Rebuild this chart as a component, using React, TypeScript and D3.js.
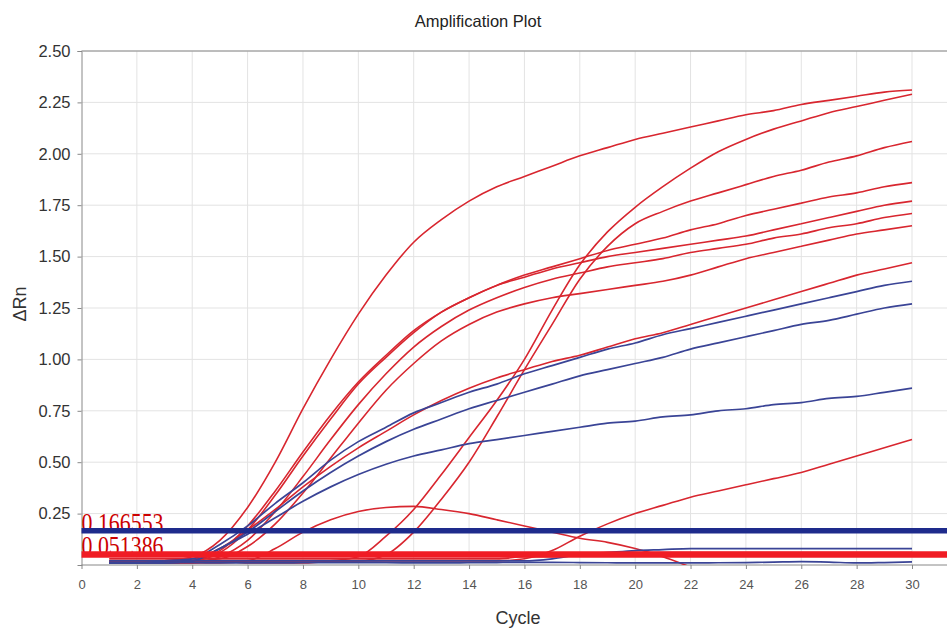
import React, { useRef, useEffect } from "react";
import * as d3 from "d3";

// cycle numbers and tick values
const cycles = d3.range(1, 31);
const xTicks = d3.range(0, 31, 2);
const yTicks = [0.25, 0.5, 0.75, 1.0, 1.25, 1.5, 1.75, 2.0, 2.25, 2.5];

// amplification curves (delta Rn per cycle, starting at cycle 1)
const redEarly = [0.01, 0.01, 0.02, 0.04, 0.12, 0.28, 0.5, 0.76, 1.0, 1.22, 1.41, 1.57, 1.68, 1.77, 1.84, 1.89, 1.94, 1.99, 2.03, 2.07, 2.1, 2.13, 2.16, 2.19, 2.21, 2.24, 2.26, 2.28, 2.3, 2.31];
const redLateA = [0.02, 0.02, 0.02, 0.02, 0.02, 0.01, 0.01, 0.01, 0.02, 0.04, 0.14, 0.27, 0.44, 0.62, 0.8, 1.0, 1.24, 1.46, 1.62, 1.74, 1.84, 1.93, 2.01, 2.07, 2.12, 2.16, 2.2, 2.23, 2.26, 2.29];
const redLateB = [0.02, 0.02, 0.02, 0.02, 0.02, 0.02, 0.02, 0.02, 0.02, 0.02, 0.05, 0.16, 0.32, 0.5, 0.72, 0.95, 1.17, 1.39, 1.55, 1.66, 1.72, 1.77, 1.81, 1.85, 1.89, 1.92, 1.96, 1.99, 2.03, 2.06];
const redMid1 = [0.01, 0.01, 0.01, 0.02, 0.07, 0.19, 0.36, 0.55, 0.73, 0.89, 1.02, 1.14, 1.23, 1.3, 1.36, 1.41, 1.45, 1.49, 1.53, 1.56, 1.59, 1.63, 1.66, 1.7, 1.73, 1.76, 1.79, 1.81, 1.84, 1.86];
const redMid2 = [0.02, 0.02, 0.02, 0.02, 0.06, 0.17, 0.34, 0.53, 0.71, 0.88, 1.01, 1.13, 1.23, 1.3, 1.36, 1.4, 1.44, 1.47, 1.5, 1.52, 1.54, 1.56, 1.58, 1.6, 1.63, 1.66, 1.69, 1.72, 1.75, 1.77];
const redMid3 = [0.01, 0.01, 0.01, 0.01, 0.04, 0.12, 0.26, 0.43, 0.61, 0.78, 0.93, 1.06, 1.16, 1.24, 1.3, 1.35, 1.39, 1.42, 1.45, 1.47, 1.49, 1.52, 1.54, 1.56, 1.59, 1.61, 1.64, 1.66, 1.69, 1.71];
const redMid4 = [0.02, 0.02, 0.02, 0.02, 0.03, 0.09, 0.2, 0.35, 0.52, 0.69, 0.85, 0.98, 1.09, 1.17, 1.23, 1.27, 1.3, 1.32, 1.34, 1.36, 1.38, 1.41, 1.45, 1.49, 1.52, 1.55, 1.58, 1.61, 1.63, 1.65];
const redLow = [0.01, 0.01, 0.02, 0.03, 0.08, 0.17, 0.27, 0.38, 0.48, 0.57, 0.65, 0.73, 0.8, 0.86, 0.91, 0.95, 0.99, 1.02, 1.06, 1.1, 1.13, 1.17, 1.21, 1.25, 1.29, 1.33, 1.37, 1.41, 1.44, 1.47];
const redLast = [0.02, 0.02, 0.02, 0.02, 0.02, 0.02, 0.02, 0.02, 0.02, 0.02, 0.02, 0.02, 0.02, 0.02, 0.02, 0.03, 0.07, 0.14, 0.2, 0.25, 0.29, 0.33, 0.36, 0.39, 0.42, 0.45, 0.49, 0.53, 0.57, 0.61];
const redHump = [0.01, 0.01, 0.01, 0.01, 0.01, 0.02, 0.08, 0.16, 0.22, 0.26, 0.28, 0.285, 0.27, 0.25, 0.22, 0.19, 0.16, 0.13, 0.11, 0.08, 0.04, -0.01];
const redFlat = [0.03, 0.03, 0.03, 0.03, 0.03, 0.03, 0.03, 0.03, 0.03, 0.03, 0.03, 0.03, 0.03, 0.03, 0.03, 0.04, 0.04, 0.05, 0.06, 0.06, 0.06, 0.06, 0.06, 0.06, 0.06, 0.06, 0.06, 0.06, 0.06, 0.06];

const blueHigh = [0.01, 0.01, 0.02, 0.03, 0.1, 0.19, 0.3, 0.4, 0.51, 0.6, 0.67, 0.74, 0.79, 0.84, 0.88, 0.93, 0.97, 1.01, 1.05, 1.08, 1.12, 1.15, 1.18, 1.21, 1.24, 1.27, 1.3, 1.33, 1.36, 1.38];
const blueMid = [0.01, 0.01, 0.01, 0.02, 0.08, 0.16, 0.26, 0.36, 0.45, 0.53, 0.6, 0.66, 0.71, 0.76, 0.8, 0.84, 0.88, 0.92, 0.95, 0.98, 1.01, 1.05, 1.08, 1.11, 1.14, 1.17, 1.19, 1.22, 1.25, 1.27];
const blueLow = [0.01, 0.01, 0.01, 0.02, 0.08, 0.15, 0.23, 0.31, 0.38, 0.44, 0.49, 0.53, 0.56, 0.59, 0.61, 0.63, 0.65, 0.67, 0.69, 0.7, 0.72, 0.73, 0.75, 0.76, 0.78, 0.79, 0.81, 0.82, 0.84, 0.86];
const blueFlat1 = [0.012, 0.012, 0.011, 0.011, 0.01, 0.01, 0.01, 0.011, 0.012, 0.012, 0.011, 0.01, 0.01, 0.011, 0.012, 0.013, 0.013, 0.012, 0.011, 0.01, 0.01, 0.01, 0.011, 0.012, 0.014, 0.016, 0.014, 0.01, 0.012, 0.015];
const blueFlat2 = [0.02, 0.02, 0.02, 0.02, 0.02, 0.02, 0.02, 0.02, 0.02, 0.02, 0.02, 0.02, 0.02, 0.02, 0.02, 0.02, 0.03, 0.05, 0.06, 0.07, 0.075, 0.08, 0.08, 0.08, 0.08, 0.08, 0.08, 0.08, 0.08, 0.08];

const redSeries = [redFlat, redHump, redLast, redLow, redMid4, redMid3, redMid2, redMid1, redLateB, redLateA, redEarly];
const blueSeries = [blueFlat1, blueFlat2, blueLow, blueMid, blueHigh];

// threshold values and their labels
const thresholdValues = [0.166553, 0.051386];
const thresholdLabels = ["0.166553", "0.051386"];

const AmplificationPlot = () => {
  const svgRef = useRef(null);

  useEffect(() => {
    const svg = d3.select(svgRef.current);
    svg.selectAll("*").remove();

    const width = 947;
    const height = 634;
    const margin = { top: 51, right: 0, bottom: 69, left: 81.5 };

    const xScale = d3.scaleLinear().domain([0, 30]).range([margin.left, 912]);
    const yScale = d3
      .scaleLinear()
      .domain([0, 2.5])
      .range([height - margin.bottom, margin.top]);

    const plotRight = width - margin.right;
    const plotBottom = height - margin.bottom;

    svg.attr("viewBox", `0 0 ${width} ${height}`);

    // clip for curves
    svg
      .append("defs")
      .append("clipPath")
      .attr("id", "plot-clip")
      .append("rect")
      .attr("x", margin.left)
      .attr("y", margin.top)
      .attr("width", plotRight - margin.left)
      .attr("height", plotBottom - margin.top);

    // grid lines
    const grid = svg.append("g");
    xTicks
      .filter((t) => t > 0)
      .forEach((t) => {
        grid
          .append("line")
          .attr("x1", xScale(t))
          .attr("x2", xScale(t))
          .attr("y1", margin.top)
          .attr("y2", plotBottom)
          .attr("stroke", "#e3e3e3")
          .attr("stroke-width", 1);
      });
    yTicks.forEach((t) => {
      grid
        .append("line")
        .attr("x1", margin.left)
        .attr("x2", plotRight)
        .attr("y1", yScale(t))
        .attr("y2", yScale(t))
        .attr("stroke", "#e3e3e3")
        .attr("stroke-width", 1);
    });

    // axes
    const xAxis = svg
      .append("g")
      .attr("transform", `translate(0,${plotBottom})`)
      .call(d3.axisBottom(xScale).tickValues(xTicks).tickSize(4).tickFormat(d3.format("d")));
    xAxis.select(".domain").attr("stroke", "#888").attr("d", `M${margin.left},0H${plotRight}`);
    xAxis.selectAll(".tick line").attr("stroke", "#888");
    xAxis
      .selectAll("text")
      .attr("fill", "#555")
      .attr("font-size", 13)
      .attr("font-family", "Liberation Sans, Arial, sans-serif")
      .attr("y", 15);

    const yAxis = svg
      .append("g")
      .attr("transform", `translate(${margin.left},0)`)
      .call(d3.axisLeft(yScale).tickValues(yTicks).tickSize(4).tickFormat(d3.format(".2f")));
    yAxis.select(".domain").attr("stroke", "#888");
    yAxis.selectAll(".tick line").attr("stroke", "#888");
    yAxis
      .selectAll("text")
      .attr("fill", "#333")
      .attr("font-size", 16.5)
      .attr("font-family", "Liberation Sans, Arial, sans-serif")
      .attr("x", -11);

    // top border
    svg
      .append("line")
      .attr("x1", margin.left)
      .attr("x2", plotRight)
      .attr("y1", margin.top)
      .attr("y2", margin.top)
      .attr("stroke", "#888");

    // curves
    const line = d3
      .line<number>()
      .x((d, i) => xScale(cycles[i]))
      .y((d) => yScale(d))
      .curve(d3.curveMonotoneX);

    const curves = svg.append("g").attr("clip-path", "url(#plot-clip)");
    redSeries.forEach((s) => {
      curves
        .append("path")
        .attr("d", line(s))
        .attr("fill", "none")
        .attr("stroke", "#d8262f")
        .attr("stroke-width", 1.6);
    });
    blueSeries.forEach((s) => {
      curves
        .append("path")
        .attr("d", line(s))
        .attr("fill", "none")
        .attr("stroke", "#3a4496")
        .attr("stroke-width", 1.7);
    });

    // threshold labels (tall, narrow serif digits)
    thresholdLabels.forEach((label, i) => {
      svg
        .append("text")
        .attr("transform", `translate(${margin.left},${yScale(thresholdValues[i]) + 1}) scale(1,1.35)`)
        .attr("fill", "#cc0000")
        .attr("font-size", 21)
        .attr("font-family", "Liberation Serif, Times New Roman, serif")
        .attr("textLength", 82)
        .attr("lengthAdjust", "spacingAndGlyphs")
        .text(label);
    });

    // threshold lines
    const thresholdColors = ["#1e2b8c", "#f01c24"];
    thresholdValues.forEach((v, i) => {
      svg
        .append("line")
        .attr("x1", margin.left)
        .attr("x2", plotRight)
        .attr("y1", yScale(v))
        .attr("y2", yScale(v))
        .attr("stroke", thresholdColors[i])
        .attr("stroke-width", i === 0 ? 5.5 : 6.5);
    });

    // titles
    svg
      .append("text")
      .attr("x", 478)
      .attr("y", 27)
      .attr("text-anchor", "middle")
      .attr("fill", "#222")
      .attr("font-size", 16.5)
      .attr("font-family", "Liberation Sans, Arial, sans-serif")
      .text("Amplification Plot");

    svg
      .append("text")
      .attr("x", 518)
      .attr("y", 624)
      .attr("text-anchor", "middle")
      .attr("fill", "#333")
      .attr("font-size", 18)
      .attr("font-family", "Liberation Sans, Arial, sans-serif")
      .text("Cycle");

    svg
      .append("text")
      .attr("transform", `translate(26,${yScale(1.27)}) rotate(-90)`)
      .attr("text-anchor", "middle")
      .attr("fill", "#333")
      .attr("font-size", 18)
      .attr("font-family", "Liberation Sans, Arial, sans-serif")
      .text("ΔRn");
  }, []);

  return (
    <svg
      ref={svgRef}
      width={947}
      height={634}
      style={{ position: "absolute", left: 0, top: 0, background: "#fff" }}
    ></svg>
  );
};

export default function App() {
  return <AmplificationPlot />;
}
